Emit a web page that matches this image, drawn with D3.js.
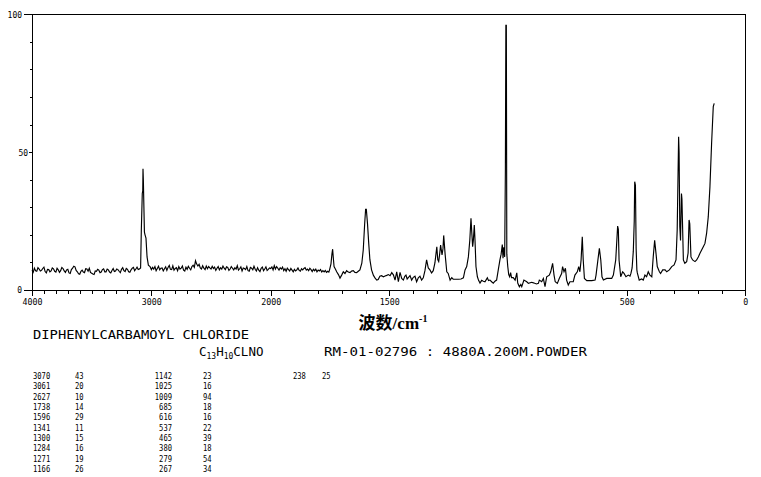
<!DOCTYPE html>
<html><head><meta charset="utf-8">
<script src="https://cdn.jsdelivr.net/npm/d3@7"></script>
<style>html,body{margin:0;padding:0;background:#fff}svg{display:block}</style>
</head><body><svg id="c" width="761" height="477"></svg>
<script>
// ---- data : [wavenumber cm-1, intensity] ----
const spectrumPoints = [
[4000,7.2],[3990,6.4],[3980,7.9],[3970,7.0],[3960,6.8],[3950,8.1],[3940,7.6],[3930,6.9],[3920,7.1],[3910,7.8],
[3900,8.3],[3890,6.7],[3880,6.2],[3870,7.5],[3860,7.4],[3850,6.6],[3840,6.9],[3830,8.0],[3820,7.7],[3810,6.8],
[3800,6.5],[3790,7.9],[3780,7.3],[3770,6.4],[3760,7.0],[3750,8.2],[3740,7.8],[3730,6.9],[3720,6.4],[3710,7.3],
[3700,7.5],[3690,6.2],[3680,6.0],[3670,7.4],[3660,7.9],[3650,8.6],[3640,8.4],[3630,7.1],[3620,6.6],[3610,5.9],
[3600,5.7],[3590,6.8],[3580,7.2],[3570,6.5],[3560,6.3],[3550,7.7],[3540,7.6],[3530,6.8],[3520,7.9],[3510,6.4],
[3500,6.1],[3490,5.8],[3480,5.6],[3470,6.9],[3460,6.8],[3450,7.5],[3440,7.2],[3430,6.3],[3420,6.5],[3410,7.4],
[3400,7.7],[3390,6.6],[3380,6.6],[3370,7.6],[3360,7.3],[3350,6.5],[3340,6.2],[3330,7.1],[3320,7.8],[3310,6.7],
[3300,6.9],[3290,7.6],[3280,7.4],[3270,6.8],[3260,6.3],[3250,7.5],[3240,8.1],[3230,7.0],[3220,6.7],[3210,7.8],
[3200,7.5],[3190,6.6],[3180,6.4],[3170,7.3],[3160,7.9],[3150,8.2],[3140,7.0],[3130,7.6],[3120,8.3],[3110,7.4],
[3100,7.6],[3090,8.0],[3084,21.8],[3076,35],[3072,36],[3070,44],[3067,40],[3064,33.4],[3058,21],[3053,20],
[3045,18.8],[3036,12],[3025,9],[3011,8.5],
[3000,7.4],[2990,8.2],[2980,7.6],[2970,8.5],[2960,7.0],[2950,7.8],[2940,8.6],[2930,7.3],[2920,7.9],[2910,8.0],
[2900,6.9],[2890,7.7],[2880,8.4],[2870,7.1],[2860,8.2],[2850,8.9],[2840,7.5],[2830,7.4],[2820,8.8],[2810,7.2],
[2800,7.8],[2790,8.1],[2780,7.0],[2770,8.5],[2760,7.6],[2750,7.9],[2740,8.7],[2730,7.2],[2720,6.9],[2710,8.3],
[2700,7.5],[2690,8.6],[2680,7.9],[2670,7.3],[2660,8.5],[2650,9.0],[2640,8.2],[2630,10.6],[2620,9.4],[2610,8.7],
[2600,9.3],[2590,8.0],[2580,7.6],[2570,8.8],[2560,7.9],[2550,7.4],[2540,8.7],[2530,7.7],[2520,8.5],[2510,8.0],
[2500,7.6],[2490,8.6],[2480,7.8],[2470,8.3],[2460,7.1],[2450,7.9],[2440,8.5],[2430,7.3],[2420,8.1],[2410,7.6],
[2400,8.7],[2390,7.9],[2380,7.4],[2370,8.4],[2360,8.2],[2350,7.1],[2340,7.6],[2330,8.5],[2320,7.9],[2310,7.3],
[2300,8.1],[2290,7.6],[2280,8.8],[2270,7.2],[2260,7.7],[2250,8.4],[2240,6.9],[2230,8.0],[2220,7.8],[2210,7.4],
[2200,8.5],[2190,7.0],[2180,6.8],[2170,8.2],[2160,7.9],[2150,7.3],[2140,8.6],[2130,7.5],[2120,6.9],[2110,8.1],
[2100,7.2],[2090,6.7],[2080,7.9],[2070,8.3],[2060,7.0],[2050,7.6],[2040,8.4],[2030,7.1],[2020,7.5],[2010,8.0],
[2000,7.8],[1995,8.4],[1990,7.3],[1985,8.8],[1980,7.6],[1975,8.5],[1970,7.9],[1965,7.2],[1960,8.1],[1955,7.6],
[1950,8.3],[1945,7.0],[1940,7.7],[1935,6.8],[1930,7.9],[1925,7.4],[1920,6.9],[1915,7.8],[1910,7.2],[1905,6.6],
[1900,7.5],[1895,6.9],[1890,7.3],[1885,8.0],[1880,7.1],[1875,6.8],[1870,7.7],[1865,7.3],[1860,7.8],[1855,8.1],
[1850,7.2],[1845,7.6],[1840,7.0],[1835,7.9],[1830,7.4],[1825,6.7],[1820,7.5],[1815,7.0],[1810,7.6],[1805,6.6],
[1800,7.2],[1795,6.9],[1790,7.4],[1785,6.5],[1780,7.0],[1775,6.6],[1770,7.1],[1765,6.4],[1760,6.8],[1755,6.5],
[1752,7.3],[1746,9.5],[1742,13],[1739,14.8],[1736,11.5],[1733,8.5],[1727,7.5],[1722,6.6],[1714,5.5],[1708,4.3],
[1701,5.4],[1694,6.6],[1687,6.0],[1680,7.0],[1673,6.5],[1666,6.3],[1659,6.9],[1652,7.0],[1645,6.4],[1638,6.3],
[1631,6.8],[1624,7.3],[1616,9.7],[1610,14.5],[1604,24],[1600,29.3],[1597,29.3],[1592,24],[1587,17],[1582,11],
[1575,7.3],[1567,5.3],[1560,4.3],[1553,3.6],[1547,3.8],[1540,5.0],[1533,5.2],[1525,4.8],[1518,5.1],[1511,5.3],
[1504,5.6],[1497,5.2],[1490,6.3],[1483,5.5],[1476,3.6],[1469,6.6],[1462,3.0],[1455,6.4],[1448,4.2],[1441,3.6],
[1435,5.0],[1430,5.4],[1425,4.0],[1420,4.5],[1413,5.2],[1406,3.6],[1399,4.6],[1392,5.0],[1385,3.0],[1378,4.4],
[1371,5.0],[1364,3.6],[1357,4.4],[1350,7.0],[1343,10.9],[1336,8.0],[1329,7.3],[1322,6.2],[1315,7.0],[1308,9.8],
[1300,15.7],[1296,11],[1292,10.3],[1288,13],[1284,16.3],[1278,12.7],[1274,15],[1271,19.8],[1265,13],[1258,6.6],
[1252,6.0],[1244,3.6],[1237,4.5],[1231,3.9],[1220,3.9],[1209,3.9],[1198,4.0],[1188,4.4],[1181,7.3],[1174,8.5],
[1167,12],[1161,18],[1156,26],[1152,20],[1149,15.7],[1146,18],[1142,23.6],[1139,18],[1135,8.5],[1129,4.8],
[1124,3.5],[1118,2.5],[1111,3.5],[1104,3.2],[1097,3.0],[1087,4.4],[1082,3.4],[1076,3.6],[1069,3.0],[1062,2.5],
[1055,3.2],[1048,3.6],[1041,7.3],[1034,10.9],[1029,13],[1024,16.5],[1021,11.5],[1018,15.5],[1014,12],[1011,44],
[1009,96],[1007,96],[1005,13],[1001,8.5],[997,5.6],[993,4.8],[989,6.3],[985,4.5],[978,4.5],[970,3.6],
[963,6.2],[959,2.5],[952,1.2],[946,2.0],[942,1.2],[933,3.6],[921,3.0],[914,2.4],[900,2.8],[893,2.6],
[880,2.2],[872,2.4],[868,3.6],[858,3.0],[851,4.2],[844,1.2],[837,4.8],[826,5.4],[820,6.6],[812,9.7],
[806,5.4],[801,3.0],[792,2.4],[784,4.2],[774,6.0],[770,8.5],[764,6.6],[758,7.9],[753,3.6],[746,1.8],
[739,3.0],[725,3.0],[718,5.4],[708,6.6],[702,8.5],[697,6.6],[692,10.9],[687,19.3],[683,10.9],[678,4.2],
[668,3.4],[647,3.4],[633,3.6],[629,5.4],[622,10.3],[615,15.1],[609,10.9],[604,4.8],[598,3.6],[584,4.2],
[570,4.2],[563,4.2],[556,5.4],[546,10.9],[538,23.2],[535,22],[532,10.9],[525,4.8],[517,6.6],[511,6.0],
[503,4.8],[493,5.4],[486,5.0],[482,6.0],[477,8.0],[472,14],[468,25],[466,39.3],[463,38],[460,15],
[457,7.3],[455,6.2],[447,3.6],[437,4.0],[430,3.6],[423,5.4],[416,4.8],[409,6.6],[402,5.4],[394,4.8],
[388,12],[382,18],[376,13],[371,8.5],[362,6.6],[357,6.0],[348,7.3],[338,7.3],[331,6.6],[320,7.3],
[310,8.5],[300,9.1],[292,10.9],[287,21.8],[281,55.6],[279,50],[276,23],[273,18],[269,35],[267,33],
[261,10.9],[255,9.7],[247,10.3],[241,13.4],[237,25.4],[234,24],[229,12],[222,10.9],[212,10.3],[205,10.9],
[198,12],[191,13.3],[184,14.5],[177,15.7],[170,16.9],[163,20.6],[156,26.6],[149,37.5],[142,53.2],[135,66.5],
[131,67.7]
];

const xTickLabels = [4000, 3000, 2000, 1500, 500, 0];
const yTickLabels = [0, 50, 100];

const compoundName = "DIPHENYLCARBAMOYL CHLORIDE";
const sampleInfo = "RM-01-02796 : 4880A.200M.POWDER";
const peakWavenumbers = [3070,3061,2627,1738,1596,1341,1300,1284,1271,1166,1142,1025,1009,685,616,537,465,380,279,267,238];
const peakIntensities = [43,20,10,14,29,11,15,16,19,26,23,16,94,18,16,22,39,18,54,34,25];

// ---- drawing ----
const svg = d3.select("#c");
svg.append("rect").attr("width",761).attr("height",477).attr("fill","#fff");

const x = d3.scaleLinear().domain([4000, 2000, 0]).range([32, 270.7, 745.3]);
const y = d3.scaleLinear().domain([0, 100]).range([290, 14.3]);

const mono = "'DejaVu Sans Mono', 'Liberation Mono', monospace";

// frame
const g = svg.append("g").attr("stroke","#000").attr("stroke-width",1).attr("shape-rendering","crispEdges");
g.append("line").attr("x1",x(4000)).attr("x2",x(0)).attr("y1",y(100)).attr("y2",y(100));
g.append("line").attr("x1",x(0)).attr("x2",x(0)).attr("y1",y(100)).attr("y2",y(0));

// x axis
const xTicks = d3.range(4000, -1, -100);
const xAxis = d3.axisBottom(x).tickValues(xTicks).tickSizeOuter(0).tickSize(3.5)
  .tickFormat(d => xTickLabels.includes(d) ? d : "");
const xg = svg.append("g").attr("transform",`translate(0,${y(0)})`).call(xAxis);
xg.select(".domain").attr("stroke","#000").attr("shape-rendering","crispEdges");
xg.selectAll(".tick line").attr("stroke","#000").attr("shape-rendering","crispEdges")
  .attr("y2", d => xTickLabels.includes(d) ? 5.5 : 3.5);
xg.selectAll(".tick text").attr("fill","#000").attr("font-family",mono).attr("font-size",9.5)
  .attr("y",8).attr("dy","0.71em")
  .each(function(d){ const s=String(d); if(xTickLabels.includes(d)) d3.select(this).attr("textLength", s.length*5).attr("lengthAdjust","spacingAndGlyphs"); });

// y axis
const yAxis = d3.axisLeft(y).tickValues(d3.range(0,101,10)).tickSizeOuter(0).tickSize(2.5)
  .tickFormat(d => yTickLabels.includes(d) ? d : "");
const yg = svg.append("g").attr("transform",`translate(${x(4000)},0)`).call(yAxis);
yg.select(".domain").attr("stroke","#000").attr("shape-rendering","crispEdges");
yg.selectAll(".tick line").attr("stroke","#000").attr("shape-rendering","crispEdges")
  .attr("x2", d => (d===0||d===100) ? -8 : (d===50 ? -3 : -2.5));
yg.selectAll(".tick text").attr("fill","#000").attr("font-family",mono).attr("font-size",9)
  .attr("x", d => d===50 ? -4 : -10)
  .each(function(d){ const s=String(d); if(yTickLabels.includes(d)) d3.select(this).attr("textLength", s.length*4.8).attr("lengthAdjust","spacingAndGlyphs"); });

// spectrum
const line = d3.line().x(d=>x(d[0])).y(d=>y(d[1]));
svg.append("path").datum(spectrumPoints).attr("d",line).attr("fill","none")
  .attr("stroke","#000").attr("stroke-width",1.15).attr("stroke-linejoin","miter");

// axis title
const t = svg.append("text").attr("x",393).attr("y",329).attr("text-anchor","middle")
  .attr("font-size",17).attr("font-weight","bold").attr("fill","#000");
t.append("tspan").attr("font-family","'Noto Sans CJK SC'").text("波数");
t.append("tspan").attr("font-family","'Liberation Serif', serif").text("/cm");
t.append("tspan").attr("font-family","'Liberation Serif', serif").attr("font-size",10).attr("dy",-7).text("-1");

// header texts
svg.append("text").attr("x",33).attr("y",339).attr("font-family",mono).attr("font-size",12.5)
  .attr("textLength",216).attr("lengthAdjust","spacingAndGlyphs").text(compoundName);

const f = svg.append("text").attr("x",199).attr("y",356).attr("font-family",mono).attr("font-size",12.5);
f.append("tspan").text("C");
f.append("tspan").attr("font-size",8).attr("dy",3).text("13");
f.append("tspan").attr("dy",-3).text("H");
f.append("tspan").attr("font-size",8).attr("dy",3).text("10");
f.append("tspan").attr("dy",-3).text("CLNO");

svg.append("text").attr("x",324).attr("y",356).attr("font-family",mono).attr("font-size",12.5)
  .attr("textLength",263).attr("lengthAdjust","spacingAndGlyphs").text(sampleInfo);

// peak table: 10 rows per column pair
const rowH = 10.33, row0 = 379;
const colSets = [
  {wx:33, anchor:"start", ix:75},
  {wx:172, anchor:"end", ix:203},
  {wx:293, anchor:"start", ix:322}
];
peakWavenumbers.forEach((w,i)=>{
  const c = colSets[Math.floor(i/10)], r = i%10;
  const yy = row0 + r*rowH;
  const s1 = String(w), s2 = String(peakIntensities[i]);
  svg.append("text").attr("x",c.wx).attr("y",yy).attr("text-anchor",c.anchor)
    .attr("font-family",mono).attr("font-size",9).attr("textLength",s1.length*4.3)
    .attr("lengthAdjust","spacingAndGlyphs").text(s1);
  svg.append("text").attr("x",c.ix).attr("y",yy)
    .attr("font-family",mono).attr("font-size",9).attr("textLength",s2.length*4.3)
    .attr("lengthAdjust","spacingAndGlyphs").text(s2);
});
</script></body></html>
